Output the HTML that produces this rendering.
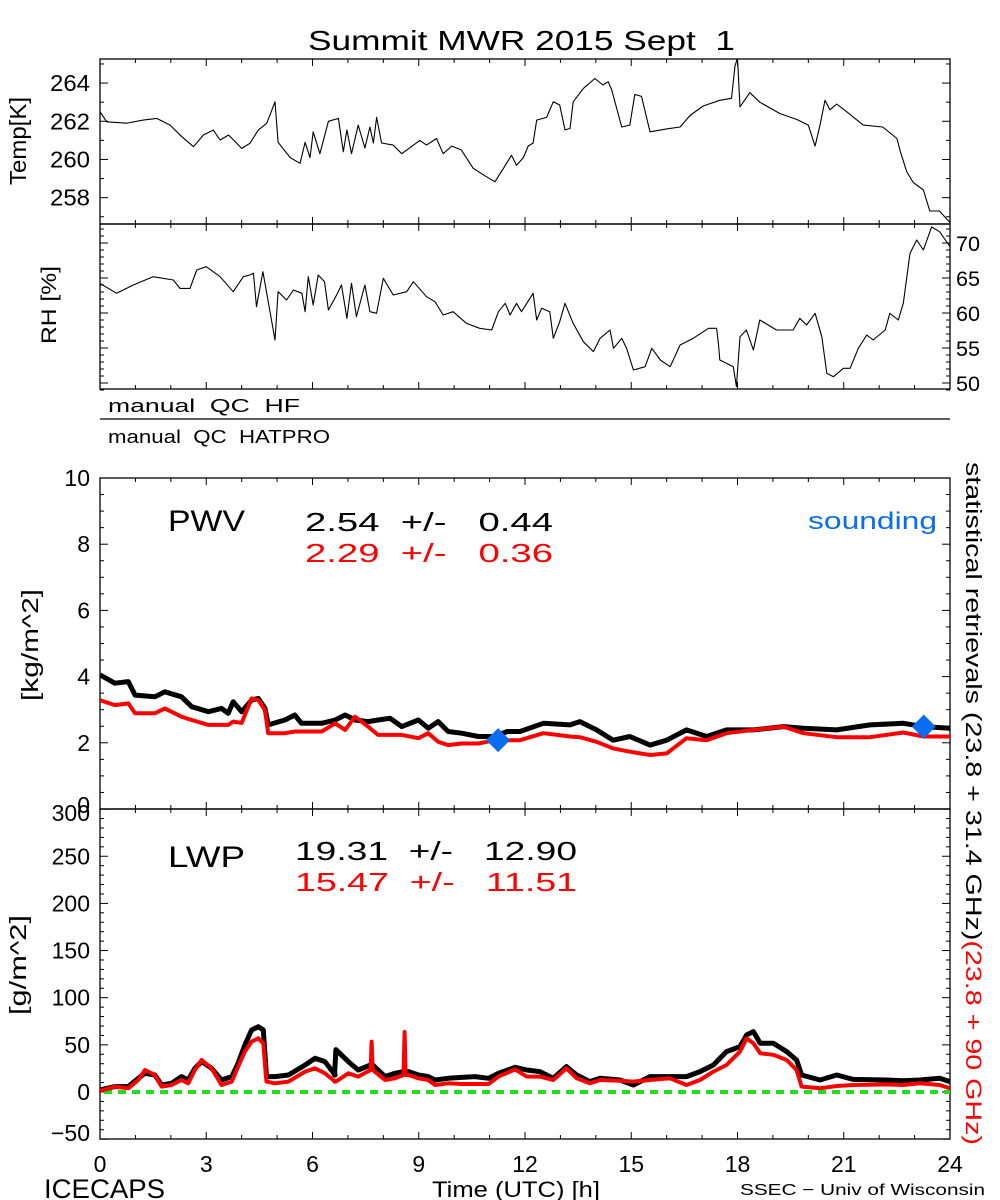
<!DOCTYPE html>
<html><head><meta charset="utf-8"><style>
html,body{margin:0;padding:0;background:#fff;}
svg{display:block;font-family:"Liberation Sans","DejaVu Sans",sans-serif;}
text{white-space:pre;}
</style></head><body>
<svg id="chart" width="1000" height="1200" viewBox="0 0 1000 1200"></svg>
<script>
// ---- data ----
const tempTimes=[0,0.19,0.75,1.22,1.6,1.98,2.31,2.64,2.92,3.2,3.39,3.63,4.0,4.23,4.47,4.71,4.94,5.03,5.37,5.65,5.79,5.93,6.02,6.21,6.45,6.73,6.87,6.97,7.1,7.29,7.48,7.62,7.72,7.81,7.95,8.28,8.52,9.03,9.22,9.5,9.69,9.93,10.2,10.54,10.82,11.15,11.39,11.62,11.76,11.95,12.09,12.23,12.33,12.61,12.8,12.98,13.13,13.27,13.36,13.65,13.97,14.2,14.35,14.45,14.73,14.96,15.1,15.29,15.53,16.0,16.38,16.66,17.03,17.5,17.83,17.93,18.0,18.07,18.35,18.63,19.2,19.67,20.0,20.19,20.33,20.47,20.61,20.8,21.08,21.55,22.1,22.5,22.6,22.78,22.96,23.25,23.43,23.7,23.9,24];
const tempVals=[262.5,261.97,261.9,262.06,262.15,261.8,261.19,260.67,261.28,261.54,261.02,261.28,260.58,260.84,261.54,261.9,263.02,260.9,260.1,259.8,260.9,260.1,261.45,260.3,262.0,262.15,260.4,261.55,260.3,261.8,260.6,261.7,260.86,262.2,260.86,260.75,260.3,261.0,260.75,261.1,260.3,260.7,260.5,259.53,259.2,258.83,259.53,260.22,259.7,260.08,260.7,260.86,262.06,262.2,263.02,262.85,261.55,261.62,263.02,263.72,264.24,263.9,264.07,263.63,261.7,261.8,263.4,263.3,261.45,261.6,261.7,262.3,262.8,263.1,263.2,264.9,265.3,262.76,263.5,263.0,262.4,262.1,261.8,260.7,261.8,263.1,262.6,262.9,262.5,261.8,261.7,261.1,260.4,259.35,258.8,258.4,257.3,257.3,256.9,256.7];
const rhTimes=[0,0.47,0.94,1.5,2.07,2.26,2.54,2.73,3.0,3.39,3.76,4.05,4.23,4.33,4.42,4.6,4.8,4.94,5.03,5.27,5.46,5.7,5.79,5.88,6.02,6.16,6.34,6.45,6.68,6.82,6.97,7.1,7.24,7.48,7.62,7.81,8.0,8.28,8.66,8.85,9.22,9.46,9.69,9.97,10.35,10.72,11.06,11.25,11.44,11.58,11.76,11.9,12.23,12.33,12.47,12.7,12.8,12.98,13.13,13.36,13.65,13.93,14.12,14.4,14.5,14.73,14.87,15.06,15.39,15.58,15.82,16.1,16.38,16.75,17.18,17.41,17.46,17.5,17.88,17.97,18.07,18.25,18.45,18.63,19.1,19.57,19.76,19.95,20.19,20.38,20.52,20.71,20.99,21.18,21.41,21.65,21.83,22.17,22.3,22.54,22.68,22.87,23.06,23.25,23.48,23.71,24];
const rhVals=[64.24,62.81,64.0,65.19,64.71,63.52,63.52,66.14,66.62,65.19,63.05,65.19,65.43,65.67,60.9,65.9,60.19,56.14,63.05,61.86,63.29,62.81,60.19,65.19,61.14,65.43,64.47,60.43,62.57,64.0,59.24,64.24,59.48,64.0,60.19,59.95,64.95,62.57,63.05,64.47,62.33,61.62,59.71,60.19,58.52,57.81,57.57,60.19,61.38,59.71,61.38,60.19,62.81,59.0,60.67,60.19,56.38,58.76,61.38,58.52,55.9,54.48,56.38,57.57,54.95,56.38,54.95,51.86,52.33,54.95,53.29,52.33,55.43,56.38,57.81,57.81,55.67,53.29,52.33,49.48,56.62,57.57,54.71,59.0,57.57,57.57,59.24,58.29,59.95,56.62,51.38,50.9,52.1,52.1,54.95,56.86,56.14,57.57,59.95,59.0,61.38,68.52,70.43,69.0,72.3,71.6,69.48];
const pwvTimes=[0,0.42,0.8,0.99,1.55,1.83,2.3,2.59,3.06,3.43,3.62,3.76,4.0,4.28,4.47,4.66,4.75,5.22,5.5,5.69,6.26,6.64,6.92,7.2,7.57,7.85,8.19,8.52,8.99,9.27,9.55,9.83,10.21,10.68,11.15,11.5,11.86,12.52,13.27,13.55,14.02,14.49,14.96,15.53,16.0,16.56,17.13,17.69,18.45,19.3,19.86,20.8,21.74,22.68,23.25,24];
const pwvBlack=[4.05,3.8,3.85,3.44,3.39,3.54,3.39,3.09,2.94,3.04,2.89,3.24,2.94,3.29,3.34,3.04,2.54,2.69,2.84,2.59,2.59,2.69,2.84,2.69,2.64,2.69,2.74,2.49,2.69,2.44,2.64,2.34,2.29,2.19,2.19,2.34,2.34,2.59,2.54,2.64,2.39,2.08,2.19,1.93,2.08,2.39,2.19,2.39,2.39,2.49,2.44,2.39,2.54,2.59,2.49,2.44];
const pwvRed=[3.29,3.14,3.19,2.89,2.89,3.04,2.79,2.69,2.54,2.54,2.54,2.64,2.6,3.34,3.29,2.99,2.29,2.29,2.34,2.34,2.34,2.59,2.39,2.79,2.49,2.24,2.24,2.24,2.14,2.29,2.03,1.93,1.98,1.98,2.08,2.08,2.08,2.29,2.19,2.17,2.03,1.83,1.73,1.63,1.68,2.14,2.08,2.29,2.39,2.49,2.29,2.17,2.17,2.31,2.19,2.19];
const soundTimes=[11.24,23.26];
const soundVals=[2.08,2.49];
const lwpTimes=[0,0.42,0.8,1.08,1.27,1.55,1.74,2.02,2.3,2.49,2.68,2.87,3.15,3.43,3.72,3.9,4.09,4.28,4.47,4.61,4.7,4.94,5.32,5.79,6.07,6.35,6.64,6.62,6.66,7.01,7.29,7.64,7.67,7.7,8.05,8.33,8.57,8.6,8.63,8.71,8.99,9.27,9.46,9.83,10.21,10.59,10.97,11.25,11.72,12.05,12.42,12.8,13.17,13.46,13.83,14.12,14.68,15.06,15.53,16.09,16.56,16.94,17.32,17.69,18.07,18.26,18.45,18.64,19.01,19.39,19.67,19.81,20.33,20.8,21.27,22.21,22.68,23.15,23.71,24];
const lwpBlack=[2.1,5.7,5.7,14.5,19.8,18,7.4,9.2,16.3,12.7,25.1,32.2,25.1,12.7,16.3,30.4,49.8,65.7,69.3,65.7,16.3,16.3,18,28.6,35.7,32.2,18,18,45,32.2,23.3,28.6,28.6,28.6,16.3,19.8,21.6,21.6,21.6,21.6,18,16.3,12.7,14.5,15.5,16.3,14.5,19.8,26.2,23.3,21.6,14.5,26.9,18,11,14.5,12.7,7.4,16.3,16.3,16.3,21.6,28.6,42.8,48.1,60.5,64,51.6,51.6,42.8,33.9,18,12.7,18,13.4,12.7,12,12.7,14.5,11];
const lwpRed=[1.2,5.7,3.9,12.7,23.3,18,5.7,7.4,12.7,9.2,23.3,33.9,25.1,7.4,11,26.9,42.8,53.4,56.9,51.6,11,9.2,11,21.6,25.1,19.8,11,11,11,19.8,16.3,23.3,53.4,23.3,12.7,14.5,18,63.6,18,18,14.5,12.7,7.4,9.2,8.5,8.5,8.5,16.3,24,16.3,16.3,12.7,25.1,14.5,9.2,12.7,12,11,12.7,14.5,7.4,12.7,21.6,28.6,42.8,56.9,51.6,41,39.4,33.9,23.3,5.7,3.9,6.4,7.4,8.1,7.4,9.2,7.4,3.9];

// ---- layout / axis functions ----
const NS='http://www.w3.org/2000/svg';
const svg=document.getElementById('chart');
const X0=100,X1=950;
const xs=h=>X0+(X1-X0)*h/24;
const yTemp=v=>59+(265.26-v)*19.1;
const yRH=v=>243-(v-70)*7;
const yPWV=v=>809-v*33.1;
const yLWP=v=>1092-v*0.943;

function el(tag,attrs,parent){const e=document.createElementNS(NS,tag);for(const k in attrs)e.setAttribute(k,attrs[k]);(parent||svg).appendChild(e);return e;}
function txt(s,x,y,size,fill,anchor,len){const a={x:x,y:y,'font-size':size,fill:fill||'#000','text-anchor':anchor||'start'};if(len){a.textLength=len;a.lengthAdjust='spacingAndGlyphs';}const t=el('text',a);t.textContent=s;return t;}

const defs=el('defs',{});
function clip(id,y0,y1){const c=el('clipPath',{id:id},defs);el('rect',{x:X0,y:y0,width:X1-X0,height:y1-y0},c);}
clip('cT',59,224);clip('cR',224,389);clip('cP',478,809);clip('cL',809,1139);

function line(x1,y1,x2,y2,stroke,w){return el('line',{x1:x1,y1:y1,x2:x2,y2:y2,stroke:stroke||'#000','stroke-width':w||1});}

let t=txt('Summit MWR 2015 Sept  1',308,50,28,'#000','start',427);


function frame(y0,y1,name){const r=el('rect',{x:X0,y:y0,width:X1-X0,height:y1-y0,fill:'none',stroke:'#000','stroke-width':1.3});}
frame(59,224,'temp-panel');frame(224,389,'rh-panel');frame(478,809,'pwv-panel');frame(809,1139,'lwp-panel');

function xticks(yTop,yBot){for(let h=0;h<=24;h++){const L=h%3===0?7:4;const x=xs(h);line(x,yTop,x,yTop+L);line(x,yBot,x,yBot-L);}}
xticks(59,224);xticks(224,389);xticks(478,809);xticks(809,1139);

for(let v=257;v<=265;v++){const y=yTemp(v);const L=v%2===0?8:4;line(X0,y,X0+L,y);line(X1,y,X1-L,y);}
[258,260,262,264].forEach(v=>{const l=txt(String(v),90,yTemp(v)+8,23,'#000','end',40);});
for(let v=49;v<=72;v++){const y=yRH(v);const L=v%5===0?8:4;line(X0,y,X0+L,y);line(X1,y,X1-L,y);}
[50,55,60,65,70].forEach(v=>{const l=txt(String(v),956,yRH(v)+8,21,'#000','start',24);});
for(let v=0;v<=10;v+=0.5){const y=yPWV(v);const L=v%2===0?8:4;line(X0,y,X0+L,y);line(X1,y,X1-L,y);}
[0,2,4,6,8,10].forEach(v=>{const l=txt(String(v),90,yPWV(v)+8-(v===0?4:0),23,'#000','end');});
for(let v=-50;v<=300;v+=10){const y=yLWP(v);const L=v%50===0?8:4;line(X0,y,X0+L,y);line(X1,y,X1-L,y);}
[-50,0,50,100,150,200,250,300].forEach(v=>{const l=txt(v<0?'\u221250':String(v),90,yLWP(v)+8+(v===300?4:0)-(v===-50?6:0),23,'#000','end');});

for(let h=0;h<=24;h+=3){const l=txt(String(h),xs(h),1172,23,'#000','middle');}

function vtxt(s,x,y,size,name,len){const a={'font-size':size,fill:'#000','text-anchor':'middle',transform:'translate('+x+','+y+') rotate(-90)'};if(len){a.textLength=len;a.lengthAdjust='spacingAndGlyphs';}const g=el('text',a);g.textContent=s;return g;}
vtxt('Temp[K]',26,141,23,'temp-axis-title',88);
vtxt('RH [%]',56,305,21,'rh-axis-title',78);
vtxt('[kg/m^2]',38,645,23,'pwv-axis-title',112);
vtxt('[g/m^2]',26,965,23,'lwp-axis-title',100);

const rv=el('text',{transform:'translate(966,462) rotate(90)','font-size':22,fill:'#000',textLength:683,lengthAdjust:'spacingAndGlyphs'});


const s1=el('tspan',{fill:'#000'},rv);s1.textContent='statistical retrievals (23.8 + 31.4 GHz)';
const s2=el('tspan',{fill:'#ff0000'},rv);s2.textContent='(23.8 + 90 GHz)';

let q=txt('manual  QC  HF',108,412,18,'#000','start',192);
line(X0,419,X1,419,'#000',1.3);
q=txt('manual  QC  HATPRO',108,443,18,'#000','start',222);

function series(times,vals,yf,color,w,clipId,name){const pts=times.map((h,i)=>xs(h).toFixed(1)+','+yf(vals[i]).toFixed(1)).join(' ');const p=el('polyline',{points:pts,fill:'none',stroke:color,'stroke-width':w,'stroke-linejoin':'round','clip-path':'url(#'+clipId+')'});return p;}
series(tempTimes,tempVals,yTemp,'#000',1.1,'cT','temp-line');
series(rhTimes,rhVals,yRH,'#000',1.1,'cR','rh-line');
series(pwvTimes,pwvBlack,yPWV,'#000',5,'cP','pwv-black-line');
series(pwvTimes,pwvRed,yPWV,'#ff0000',4,'cP','pwv-red-line');
const z=el('line',{x1:X0+4,y1:yLWP(0),x2:X1,y2:yLWP(0),stroke:'#22dd22','stroke-width':4,'stroke-dasharray':'8,6'});

series(lwpTimes,lwpBlack,yLWP,'#000',5,'cL','lwp-black-line');
series(lwpTimes,lwpRed,yLWP,'#ff0000',4,'cL','lwp-red-line');
soundTimes.forEach((h,i)=>{const x=xs(h),y=yPWV(soundVals[i]);const d=el('polygon',{points:(x)+','+(y-12)+' '+(x+12)+','+y+' '+x+','+(y+12)+' '+(x-12)+','+y,fill:'#0a6cf0'});});

let a=txt('PWV',168,531,30,'#000','start',77);
a=txt('2.54  +/-   0.44',305,531,26,'#000','start',248);
a=txt('2.29  +/-   0.36',305,562,26,'#ff0000','start',248);
a=txt('sounding',808,529,24,'#0a6cf0','start',129);
a=txt('LWP',168,867,30,'#000','start',77);
a=txt('19.31  +/-   12.90',295,860,26,'#000','start',282);
a=txt('15.47  +/-   11.51',295,891,26,'#ff0000','start',282);

a=txt('ICECAPS',44,1198,27,'#000','start',121);
a=txt('Time (UTC) [h]',432,1197,22,'#000','start',168);
a=txt('SSEC \u2212 Univ of Wisconsin',740,1195,16,'#000','start',245);
</script>
</body></html>
